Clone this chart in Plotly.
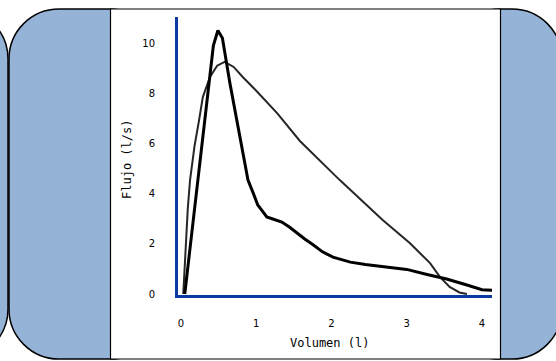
import plotly.graph_objects as go

W, H = 556, 361

# Data
forced_x = [0.05, 0.15, 0.25, 0.35, 0.43, 0.49, 0.55, 0.65, 0.78, 0.89, 0.96, 1.02, 1.09, 1.14,
            1.22, 1.34, 1.44, 1.54, 1.64, 1.76, 1.88, 2.02, 2.25, 2.45, 2.68, 3.0, 3.27, 3.53,
            3.8, 4.0, 4.15]
forced_y = [0.0, 2.6, 5.2, 7.8, 9.9, 10.5, 10.2, 8.4, 6.3, 4.54, 4.02, 3.55, 3.27, 3.07,
            2.99, 2.87, 2.67, 2.43, 2.2, 1.95, 1.68, 1.47, 1.27, 1.18, 1.1, 0.98, 0.78, 0.6,
            0.36, 0.17, 0.15]

ref_x = [0.03, 0.06, 0.09, 0.12, 0.18, 0.24, 0.29, 0.385, 0.48, 0.58, 0.7, 0.82, 1.0, 1.28,
         1.58, 2.11, 2.68, 3.04, 3.31, 3.44, 3.57, 3.7, 3.8]
ref_y = [0.0, 2.0, 3.4, 4.54, 5.9, 6.93, 7.85, 8.65, 9.1, 9.25, 9.05, 8.65, 8.1, 7.2,
         6.1, 4.54, 2.95, 2.03, 1.23, 0.68, 0.28, 0.06, 0.0]

x_ticks = [0, 1, 2, 3, 4]
y_ticks = [0, 2, 4, 6, 8, 10]
x_title = "Volumen (l)"
y_title = "Flujo (l/s)"

FILL = "#95B3D7"
AXIS = "#0B3AA0"


def px(x):
    return x / W


def py(y):
    return 1 - y / H


def rounded_rect(x0, y0, x1, y1, r):
    k = 0.5523 * r
    pts = [
        ("M", [(x0 + r, y0)]),
        ("L", [(x1 - r, y0)]),
        ("C", [(x1 - r + k, y0), (x1, y0 + r - k), (x1, y0 + r)]),
        ("L", [(x1, y1 - r)]),
        ("C", [(x1, y1 - r + k), (x1 - r + k, y1), (x1 - r, y1)]),
        ("L", [(x0 + r, y1)]),
        ("C", [(x0 + r - k, y1), (x0, y1 - r + k), (x0, y1 - r)]),
        ("L", [(x0, y0 + r)]),
        ("C", [(x0, y0 + r - k), (x0 + r - k, y0), (x0 + r, y0)]),
    ]
    s = ""
    for cmd, ps in pts:
        s += cmd + " " + " ".join(f"{px(a):.5f},{py(b):.5f}" for a, b in ps) + " "
    return s + "Z"


fig = go.Figure()
fig.add_trace(go.Scatter(x=ref_x, y=ref_y, mode="lines",
                         line=dict(color="#262626", width=2), hoverinfo="skip"))
fig.add_trace(go.Scatter(x=forced_x, y=forced_y, mode="lines",
                         line=dict(color="#000000", width=3), hoverinfo="skip"))

shapes = [
    dict(type="path", path=rounded_rect(-150, 9, 8, 359, 50), xref="paper", yref="paper",
         fillcolor=FILL, line=dict(color="black", width=1.5), layer="below"),
    dict(type="path", path=rounded_rect(9, 9, 160, 359, 50), xref="paper", yref="paper",
         fillcolor=FILL, line=dict(color="black", width=1.5), layer="below"),
    dict(type="path", path=rounded_rect(450, 9, 562, 359, 50), xref="paper", yref="paper",
         fillcolor=FILL, line=dict(color="black", width=1.5), layer="below"),
    dict(type="rect", x0=px(110.5), x1=px(500.5), y0=py(359), y1=py(9), xref="paper", yref="paper",
         fillcolor="white", line=dict(color="black", width=1.2), layer="below"),
]

tickfont = dict(family="DejaVu Sans", size=10, color="black")
titlefont = dict(family="DejaVu Sans Mono", size=12, color="black")

fig.update_layout(
    width=W, height=H,
    margin=dict(l=0, r=0, t=0, b=0, autoexpand=False),
    paper_bgcolor="white",
    plot_bgcolor="rgba(0,0,0,0)",
    showlegend=False,
    shapes=shapes,
    xaxis=dict(domain=[px(178), px(492)], range=[-0.04, 4.133], automargin=False,
               showgrid=False, zeroline=False, showline=True, linecolor=AXIS, linewidth=3,
               tickvals=x_ticks, ticktext=[str(v) for v in x_ticks], ticks="",
               ticklabelstandoff=17, tickfont=tickfont, fixedrange=True),
    yaxis=dict(domain=[py(295), py(17)], range=[-0.04, 11.04], automargin=False,
               showgrid=False, zeroline=False, showline=True, linecolor=AXIS, linewidth=3,
               tickvals=y_ticks, ticktext=[str(v) for v in y_ticks], ticks="",
               ticklabelstandoff=18, tickfont=tickfont, fixedrange=True),
    annotations=[
        dict(text=x_title, x=px(329), y=py(343), xref="paper", yref="paper",
             xanchor="center", yanchor="middle",
             showarrow=False, font=titlefont),
        dict(text=y_title, x=px(127), y=py(160), xref="paper", yref="paper", textangle=-90,
             xanchor="center", yanchor="middle",
             showarrow=False, font=titlefont),
    ],
)

fig.write_html("out.html", config={"displayModeBar": False},
               post_script="document.body.style.margin='0';document.body.style.overflow='hidden';")
